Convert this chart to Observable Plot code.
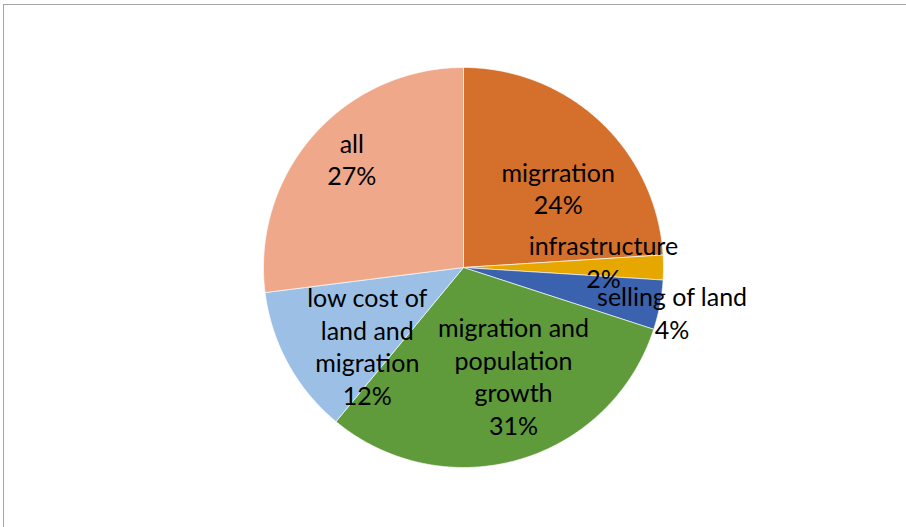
<!DOCTYPE html>
<html>
<head>
<meta charset="utf-8">
<script src="https://cdn.jsdelivr.net/npm/d3@7"></script>
<script src="https://cdn.jsdelivr.net/npm/@observablehq/plot@0.6"></script>
<style>
  html, body { margin: 0; padding: 0; background: #fff; }
  #wrap { position: relative; width: 906px; height: 527px; overflow: hidden; }
  #frame { position: absolute; left: 3px; top: 4px; width: 1000px; height: 1000px;
           border-left: 1.5px solid #a6a6a6; border-top: 1.5px solid #a6a6a6; pointer-events: none; }
  #chart { position: absolute; left: 0; top: 0; }
</style>
</head>
<body>
<div id="wrap"><div id="chart"></div><div id="frame"></div></div>
<script>
// Data (clockwise from 12 o'clock)
const categories = ["migrration", "infrastructure", "selling of land", "migration and population growth", "low cost of land and migration", "all"];
const labels = ["migrration", "infrastructure", "selling of land", "migration and\npopulation\ngrowth", "low cost of\nland and\nmigration", "all"];
const values = [24, 2, 4, 31, 12, 27];
const colors = ["#D4702B", "#E6A800", "#3B62AE", "#5F9A3B", "#9CC0E5", "#F0A88A"];

// label layout (angle offset in degrees from slice middle, radius as fraction of pie radius)
const labelLayout = {
  "migrration": [7.7, 0.61],
  "infrastructure": [-1.4, 0.70],
  "selling of land": [2.1, 1.07],
  "migration and population growth": [-8.0, 0.61],
  "low cost of land and migration": [-11.4, 0.63],
  "all": [2.1, 0.77]
};

const total = d3.sum(values);
const slices = [];
let acc = 0;
categories.forEach((c, i) => {
  const a0 = acc / total * 2 * Math.PI;
  acc += values[i];
  const a1 = acc / total * 2 * Math.PI;
  slices.push({key: c, label: labels[i], value: values[i], a0, a1});
});

// polygon points for each slice (unit radius)
const pts = [];
for (const s of slices) {
  pts.push({key: s.key, x: 0, y: 0});
  const n = Math.max(2, Math.ceil((s.a1 - s.a0) / 0.01));
  for (let k = 0; k <= n; k++) {
    const a = s.a0 + (s.a1 - s.a0) * k / n;
    pts.push({key: s.key, x: Math.sin(a), y: Math.cos(a)});
  }
  pts.push({key: s.key, x: 0, y: 0});
}

const textData = slices.map(s => {
  const [off, r] = labelLayout[s.key];
  const a = (s.a0 + s.a1) / 2 + off * Math.PI / 180;
  return {key: s.key, text: s.label + "\n" + Math.round(s.value / total * 100) + "%", x: r * Math.sin(a), y: r * Math.cos(a)};
});

const R = 200, cx = 463, cy = 267, W = 906, H = 527;
const chart = Plot.plot({
  width: W, height: H,
  margin: 0,
  x: {domain: [-cx / R, (W - cx) / R], axis: null},
  y: {domain: [-(H - cy) / R, cy / R], axis: null},
  color: {domain: categories, range: colors},
  style: {fontFamily: "Lato, 'Open Sans', sans-serif", background: "white"},
  marks: [
    Plot.line(pts, {x: "x", y: "y", z: "key", fill: "key", stroke: "white", strokeWidth: 0.8, strokeOpacity: 0.8, curve: "linear"}),
    Plot.text(textData, {x: "x", y: "y", text: "text", fontSize: 25, lineHeight: 1.3, dy: -3, fill: "black", textAnchor: "middle"})
  ]
});
document.getElementById("chart").appendChild(chart);
</script>
</body>
</html>
